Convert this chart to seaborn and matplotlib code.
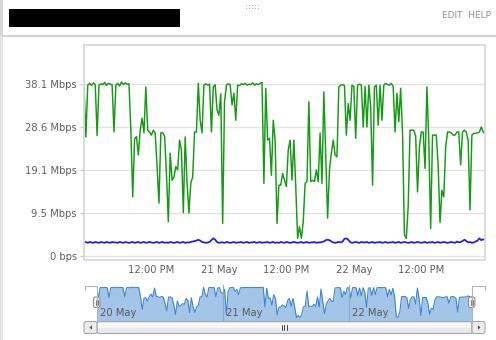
import numpy as np
import pandas as pd
import matplotlib
matplotlib.use("Agg")
import matplotlib.pyplot as plt
import matplotlib.transforms as mtransforms
from matplotlib.patches import Rectangle, FancyBboxPatch, Polygon
import seaborn as sns

# ---------------- data ----------------
start = "2014-05-20 00:00"
step = "20min"

download_mbps = [
    38.0, 26.4, 37.9, 38.3, 37.8, 38.4, 38.0, 26.7, 37.9, 38.2,
    38.0, 38.5, 37.8, 38.3, 38.1, 38.0, 27.5, 37.9, 38.3, 37.7,
    38.6, 38.0, 38.4, 38.1, 38.2, 28.0, 13.1, 26.0, 26.5, 22.4,
    28.0, 30.6, 27.3, 37.5, 27.9, 27.5, 26.8, 27.9, 27.2, 19.8,
    11.7, 27.3, 27.3, 26.6, 18.3, 7.6, 22.8, 16.8, 17.5, 19.8,
    19.1, 25.7, 23.5, 9.6, 26.4, 16.2, 9.5, 16.2, 17.5, 27.5,
    27.5, 38.3, 30.1, 27.3, 37.9, 38.2, 37.9, 38.1, 27.5, 37.5,
    38.0, 32.4, 31.2, 36.0, 7.2, 34.2, 37.9, 38.2, 38.0, 33.5,
    36.1, 30.1, 37.9, 37.8, 38.2, 38.0, 38.3, 37.9, 38.1, 38.0,
    38.4, 37.9, 38.2, 38.0, 38.3, 38.5, 16.1, 37.2, 25.7, 26.1,
    17.9, 30.1, 25.7, 7.2, 15.7, 15.7, 18.3, 16.8, 15.4, 23.5,
    25.7, 16.8, 25.7, 15.4, 3.9, 6.5, 3.9, 7.6, 16.1, 16.5,
    34.2, 16.5, 16.8, 16.5, 19.1, 16.5, 27.3, 16.1, 36.4, 22.8,
    8.4, 19.1, 22.8, 25.7, 22.4, 22.0, 37.5, 37.9, 38.0, 37.8,
    26.8, 33.8, 30.1, 37.9, 37.6, 26.1, 37.9, 38.1, 37.9, 28.6,
    37.6, 28.6, 37.9, 33.0, 15.7, 37.5, 37.9, 29.0, 37.9, 30.1,
    37.9, 38.3, 38.0, 37.9, 38.3, 37.6, 27.5, 36.1, 29.8, 37.2,
    27.2, 4.7, 3.9, 10.9, 27.9, 27.9, 27.9, 26.6, 14.2, 24.2,
    27.5, 27.5, 19.4, 37.5, 25.7, 6.1, 26.8, 26.8, 26.8, 20.0,
    7.4, 14.6, 13.1, 24.0, 27.5, 27.5, 27.3, 26.8, 26.8, 27.5,
    27.5, 20.2, 27.5, 27.9, 27.5, 25.7, 10.2, 26.8, 27.2, 27.2,
    27.3, 27.5, 28.6, 27.5, 27.2,
]

upload_mbps = [
    3.0, 3.1, 2.9, 3.1, 3.0, 2.9, 3.1, 3.0, 2.9, 3.1,
    3.0, 2.9, 3.1, 3.0, 2.9, 3.1, 3.0, 3.0, 2.9, 3.1,
    3.0, 2.9, 3.1, 3.0, 2.9, 3.0, 3.1, 2.9, 3.0, 3.1,
    2.9, 3.0, 3.1, 2.9, 3.0, 3.1, 3.0, 2.9, 3.0, 3.1,
    2.9, 3.0, 3.1, 2.9, 3.0, 2.9, 3.1, 3.0, 2.9, 3.0,
    3.1, 2.9, 3.0, 3.1, 2.9, 3.0, 3.0, 3.1, 3.2, 3.3,
    3.4, 3.6, 3.4, 3.1, 3.0, 2.9, 3.0, 3.1, 3.5, 3.9,
    3.6, 3.1, 2.9, 3.0, 3.0, 2.9, 3.1, 3.0, 2.9, 3.0,
    3.1, 2.9, 3.0, 3.0, 3.1, 2.9, 3.0, 3.1, 2.9, 3.0,
    3.0, 3.1, 2.9, 3.0, 3.1, 2.9, 3.0, 3.0, 3.1, 2.9,
    3.0, 3.1, 2.9, 3.0, 2.9, 3.1, 3.0, 2.9, 3.1, 3.0,
    2.9, 3.0, 3.1, 3.0, 2.9, 3.0, 3.1, 2.9, 3.0, 3.1,
    2.9, 3.0, 3.0, 3.1, 2.9, 3.0, 3.0, 3.1, 3.2, 3.5,
    3.6, 3.5, 3.2, 3.0, 2.9, 3.0, 3.1, 3.0, 3.2, 3.8,
    3.9, 3.6, 3.1, 2.9, 3.0, 3.1, 3.0, 2.9, 3.1, 3.0,
    3.0, 3.1, 2.9, 3.0, 3.1, 2.9, 3.0, 3.0, 3.1, 2.9,
    3.0, 3.1, 2.9, 3.0, 3.0, 3.1, 2.9, 3.0, 3.1, 2.9,
    3.0, 3.1, 3.0, 2.9, 3.0, 3.1, 2.9, 3.0, 3.1, 3.0,
    2.9, 3.0, 3.1, 2.9, 3.0, 3.0, 3.1, 2.9, 3.0, 3.1,
    2.9, 3.0, 3.1, 3.0, 2.9, 3.0, 3.1, 3.0, 2.9, 3.2,
    3.0, 3.1, 3.3, 3.6, 3.3, 3.0, 3.1, 2.9, 3.0, 3.2,
    3.4, 3.9, 3.5, 3.7, 3.5,
]

y_ticks = [0, 9.53, 19.07, 28.6, 38.13]
y_labels = ["0 bps", "9.5 Mbps", "19.1 Mbps", "28.6 Mbps", "38.1 Mbps"]
x_ticks = ["2014-05-20 12:00", "2014-05-21 00:00", "2014-05-21 12:00",
           "2014-05-22 00:00", "2014-05-22 12:00"]
x_labels = ["12:00 PM", "21 May", "12:00 PM", "22 May", "12:00 PM"]
nav_ticks = ["2014-05-20 00:00", "2014-05-21 00:00", "2014-05-22 00:00"]
nav_labels = ["20 May", "21 May", "22 May"]
header_links = "EDIT  HELP"

times = pd.date_range(start, periods=len(download_mbps), freq=step)
df = pd.DataFrame({"time": times, "down": download_mbps, "up": upload_mbps})

# ---------------- style ----------------
sns.set_style("white")
plt.rcParams["font.family"] = ["DejaVu Sans"]

W, H = 496, 340
fig = plt.figure(figsize=(W / 100, H / 100), dpi=100)
fig.patch.set_facecolor("white")


def box(x0, y0, x1, y1):
    return [x0 / W, 1 - y1 / H, (x1 - x0) / W, (y1 - y0) / H]


LABEL_C = "#5e5e5e"
FS = 7.2

# background decorations
bg = fig.add_axes([0, 0, 1, 1], zorder=0)
bg.set_xlim(0, W)
bg.set_ylim(H, 0)
bg.axis("off")
bg.add_patch(Rectangle((0, 0), 3, H, color="#e4e4e4", lw=0))
bg.add_patch(Rectangle((0, 0), 3, 36, color="#d6d6d6", lw=0))
bg.add_patch(Rectangle((9, 9), 171, 18, color="black", lw=0))
bg.plot([3, W], [36, 36], color="#d4d4d4", lw=1.6)
for dx in range(5):
    for dy in (5.5, 8.5):
        bg.add_patch(Rectangle((245.5 + dx * 3, dy - 0.6), 1.4, 1.3,
                               color="#b5b5b5", lw=0))
bg.text(491, 15, header_links, ha="right", va="center", fontsize=6.5,
        color="#8a909a")

# ---------------- main chart ----------------
ax = fig.add_axes(box(84, 45, 485, 260), zorder=2)
ax.set_facecolor("white")
sns.lineplot(data=df, x="time", y="down", ax=ax, color="#149a14", lw=1.05)
sns.lineplot(data=df, x="time", y="up", ax=ax, color="#1a1af2", lw=1.25)
ax.set_xlim(times[0], times[-1])
ax.set_ylim(-0.9, 46.8)
ax.set_yticks(y_ticks)
ax.set_yticklabels(y_labels)
ax.set_xticks(pd.to_datetime(x_ticks))
ax.set_xticklabels(x_labels)
ax.set_xlabel("")
ax.set_ylabel("")
ax.yaxis.grid(True, color="#e2e2e2", lw=1.0)
ax.xaxis.grid(False)
ax.tick_params(axis="y", length=2.9, width=0.9, color="#cccccc", pad=2.2,
               labelsize=FS, labelcolor=LABEL_C, left=True)
ax.tick_params(axis="x", length=0, pad=3.5, labelsize=FS, labelcolor=LABEL_C)
for s in ax.spines.values():
    s.set_visible(True)
    s.set_color("#d9d9d9")
    s.set_linewidth(1.3)
legend = ax.get_legend()
if legend is not None:
    legend.remove()

# ---------------- navigator ----------------
nav = fig.add_axes(box(96.7, 285, 471.7, 321), zorder=2)
nav.set_facecolor("white")
nav.fill_between(df["time"], df["down"], 0, color="#a3c6e8", lw=0)
sns.lineplot(data=df, x="time", y="down", ax=nav, color="#3f86cf", lw=0.8)
nav.set_xlim(times[0], times[-1])
nav.set_ylim(0, 41)
nav.set_xticks(pd.to_datetime(nav_ticks[1:]))
nav.xaxis.grid(True, color="#86acd2", lw=0.9)
nav.set_axisbelow(False)
nav.set_yticks([])
nav.tick_params(axis="x", length=0, labelbottom=False)
nav.set_xlabel("")
nav.set_ylabel("")
for s in nav.spines.values():
    s.set_visible(False)
lab_tr = mtransforms.offset_copy(
    mtransforms.blended_transform_factory(nav.transData, nav.transAxes),
    fig=fig, x=3, y=0, units="dots")
for t, lab in zip(pd.to_datetime(nav_ticks), nav_labels):
    nav.text(t, 0.22, lab, transform=lab_tr, ha="left", va="center",
             fontsize=FS, color="#5a5a5a")

# ---------------- foreground: outline, handles, scrollbar ----------------
fg = fig.add_axes([0, 0, 1, 1], zorder=5)
fg.set_xlim(0, W)
fg.set_ylim(H, 0)
fg.axis("off")
fg.patch.set_alpha(0)
oc = "#b3b3b3"
fg.plot([84.5, 96.7, 96.7], [290, 285.5, 285.5][0:1] + [285.5, 321], color=oc, lw=0)
fg.plot([84.5, 84.5, 96.7, 96.7], [290, 285.5, 285.5, 321], color=oc, lw=0.8)
fg.plot([484.5, 484.5, 471.7, 471.7], [290, 285.5, 285.5, 321], color=oc, lw=0.8)

for hx in (96.7, 471.7):
    fg.add_patch(FancyBboxPatch((hx - 3.2, 297), 6.4, 10.5,
                                boxstyle="round,pad=0,rounding_size=2",
                                fc="#f4f4f4", ec="#8f8f8f", lw=0.8))
    for lx in (hx - 1.0, hx + 1.0):
        fg.plot([lx, lx], [299.5, 305], color="#666666", lw=0.6)

# scrollbar
fg.add_patch(FancyBboxPatch((97, 321.5), 375, 12, boxstyle="round,pad=0,rounding_size=2",
                            fc="#e9e9e9", ec="#a8a8a8", lw=0.8))
fg.add_patch(Rectangle((98, 322.5), 373, 5, fc="#f6f6f6", lw=0))
for bx in (84, 472):
    fg.add_patch(FancyBboxPatch((bx, 321.5), 13, 12, boxstyle="round,pad=0,rounding_size=2",
                                fc="#ececec", ec="#a8a8a8", lw=0.8))
fg.add_patch(Polygon([[89.5, 327.5], [92, 325.2], [92, 329.8]], closed=True,
                     fc="#555555", lw=0))
fg.add_patch(Polygon([[480.5, 327.5], [478, 325.2], [478, 329.8]], closed=True,
                     fc="#555555", lw=0))
for gx in (282, 284.3, 286.6):
    fg.plot([gx, gx], [325, 330], color="#444444", lw=0.7)

fig.savefig("out.png", dpi=100, facecolor="white")
